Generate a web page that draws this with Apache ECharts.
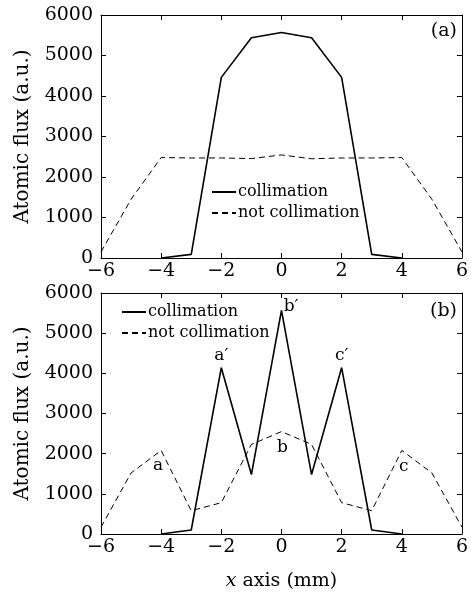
<!DOCTYPE html>
<html>
<head>
<meta charset="utf-8">
<script src="https://cdn.jsdelivr.net/npm/echarts@6/dist/echarts.min.js"></script>
<style>
  html, body { margin: 0; padding: 0; background: #fff; }
  #chart { width: 471px; height: 592px; }
</style>
</head>
<body>
<div id="chart"></div>
<script>
// x positions (mm)
const xs = [-6, -5, -4, -3, -2, -1, 0, 1, 2, 3, 4, 5, 6];

// panel (a)
const aCollimation    = [null, null, 0, 90, 4460, 5440, 5570, 5440, 4460, 90, 0, null, null];
const aNotCollimation = [150, 1450, 2480, 2470, 2470, 2455, 2545, 2450, 2470, 2470, 2480, 1450, 150];

// panel (b)
const bCollimation    = [null, null, 0, 100, 4140, 1480, 5570, 1480, 4140, 100, 0, null, null];
const bNotCollimation = [170, 1520, 2080, 580, 780, 2230, 2550, 2230, 780, 580, 2080, 1520, 170];

// peak names in panel (b)
const peakSolid  = { '-2': 'a′', '0': 'b′', '2': 'c′' };
const peakDashed = { '-4': 'a', '0': 'b', '4': 'c' };

const font = 'DejaVu Serif';
const black = '#000';

function pairs(vals) {
  return xs.map((x, i) => [x, vals[i]]);
}

const chart = echarts.init(document.getElementById('chart'), null, { renderer: 'canvas' });

const grids = [
  { left: 101, right: 4, top: 15, height: 243 },
  { left: 101, right: 4, top: 293, height: 243 }
];

const tick = { show: true, inside: true, length: 5, lineStyle: { color: black } };
const spine = { show: true, onZero: false, lineStyle: { color: black, width: 1 } };

function xAxes(gi, title) {
  return [
    {
      type: 'value', gridIndex: gi, min: -6, max: 6, interval: 2,
      axisLine: spine, axisTick: tick,
      axisLabel: { color: black, fontFamily: font, fontSize: 19, margin: 4,
        formatter: v => (v < 0 ? '\u2212' + Math.abs(v) : String(v)) },
      splitLine: { show: false },
      name: title || '',
      nameLocation: 'middle', nameGap: 38,
      nameTextStyle: {
        color: black, fontFamily: font, fontSize: 19,
        rich: { i: { fontStyle: 'italic', fontFamily: font, fontSize: 19, color: black } }
      }
    },
    {
      type: 'value', gridIndex: gi, position: 'top', min: -6, max: 6, interval: 2,
      axisLine: spine, axisTick: tick,
      axisLabel: { show: false }, splitLine: { show: false }
    }
  ];
}

function yAxes(gi) {
  return [
    {
      type: 'value', gridIndex: gi, min: 0, max: 6000, interval: 1000,
      axisLine: spine, axisTick: tick,
      axisLabel: { color: black, fontFamily: font, fontSize: 19, margin: 8, formatter: v => String(v) },
      splitLine: { show: false },
      name: 'Atomic flux (a.u.)', nameLocation: 'middle', nameGap: 68,
      nameTextStyle: { color: black, fontFamily: font, fontSize: 20 }
    },
    {
      type: 'value', gridIndex: gi, position: 'right', min: 0, max: 6000, interval: 1000,
      axisLine: spine, axisTick: tick,
      axisLabel: { show: false }, splitLine: { show: false }
    }
  ];
}

const solidStyle = { color: black, width: 1.6, type: 'solid' };
const dashStyle  = { color: black, width: 1, type: [6, 4] };
const lblStyle = { color: '#000', opacity: 1, fontFamily: font, fontSize: 17, textBorderWidth: 0 };

function line(name, xi, yi, data, style) {
  return {
    name, type: 'line', xAxisIndex: xi, yAxisIndex: yi, data,
    symbol: 'none', connectNulls: false,
    lineStyle: style, itemStyle: { color: black }, z: 3
  };
}

// label-only points placed on the peaks of panel (b)
function peakLabels(vals, names, labelFor) {
  return {
    type: 'scatter', xAxisIndex: 2, yAxisIndex: 2, symbolSize: 0.5,
    itemStyle: { color: '#000' }, z: 4, silent: true,
    emphasis: { disabled: true },
    data: xs.map((x, i) => ({ x, v: vals[i] }))
      .filter(d => names[d.x] !== undefined)
      .map(d => ({
        value: [d.x, d.v],
        label: Object.assign({ show: true, formatter: names[d.x] }, lblStyle, labelFor(d.x))
      }))
  };
}

function legend(left, top, names) {
  return {
    orient: 'vertical', left, top, itemWidth: 24, itemHeight: 10, itemGap: 5,
    data: names.map(n => ({ name: n })),
    itemStyle: { opacity: 0 },
    textStyle: { color: black, fontFamily: font, fontSize: 16, padding: [0, 0, 0, -3] },
    selectedMode: false, padding: 0
  };
}

const option = {
  backgroundColor: '#fff',
  animation: false,
  grid: grids,
  xAxis: xAxes(0).concat(xAxes(1, '{i|x} axis (mm)')),
  yAxis: yAxes(0).concat(yAxes(1)),
  legend: [
    legend(211, 184, ['collimation', 'not collimation']),
    legend(121, 304, ['collimation ', 'not collimation '])
  ],
  graphic: [
    { type: 'text', right: 14, top: 22, style: { text: '(a)', font: '19px "DejaVu Serif"', fill: black } },
    { type: 'text', right: 14, top: 302, style: { text: '(b)', font: '19px "DejaVu Serif"', fill: black } }
  ],
  series: [
    line('collimation', 0, 0, pairs(aCollimation), solidStyle),
    line('not collimation', 0, 0, pairs(aNotCollimation), dashStyle),
    line('collimation ', 2, 2, pairs(bCollimation), solidStyle),
    line('not collimation ', 2, 2, pairs(bNotCollimation), dashStyle),
    peakLabels(bCollimation, peakSolid, x => (
      x === 0 ? { position: 'right', distance: 2, offset: [0, -4] }
              : { position: 'top', distance: 3 }
    )),
    peakLabels(bNotCollimation, peakDashed, x => (
      x === -4 ? { position: 'bottom', distance: 6, offset: [-3, 0] }
               : { position: 'bottom', distance: 7, offset: [x === 4 ? 2 : 1, 0] }
    ))
  ]
};

chart.setOption(option);
</script>
</body>
</html>
